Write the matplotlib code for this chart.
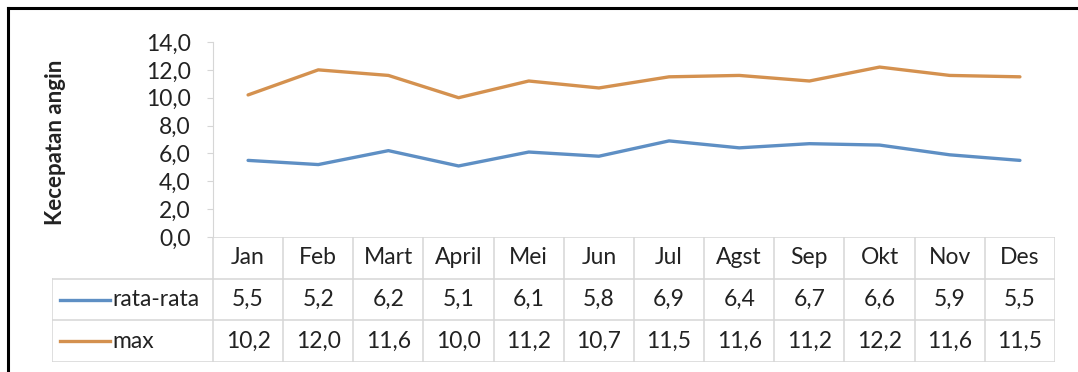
import matplotlib
matplotlib.use("Agg")
import matplotlib.pyplot as plt
from matplotlib.lines import Line2D

plt.rcParams['font.family'] = ['Lato', 'DejaVu Sans']

# monthly wind speed
months = ["Jan", "Feb", "Mart", "April", "Mei", "Jun", "Jul", "Agst", "Sep", "Okt", "Nov", "Des"]
rata_rata = [5.5, 5.2, 6.2, 5.1, 6.1, 5.8, 6.9, 6.4, 6.7, 6.6, 5.9, 5.5]
maks = [10.2, 12.0, 11.6, 10.0, 11.2, 10.7, 11.5, 11.6, 11.2, 12.2, 11.6, 11.5]
series_names = ["rata-rata", "max"]
yticks = [0, 2, 4, 6, 8, 10, 12, 14]

BLUE = "#5e8fc4"
ORANGE = "#d4914f"
GRID = "#d6d6d6"
TXT = "#222222"
FS = 16.5

W, H = 1078, 372
fig = plt.figure(figsize=(W / 100, H / 100), dpi=100)


def box(l, t, r, b):
    # pixel box -> figure fraction rect
    return [l / W, (H - b) / H, (r - l) / W, (b - t) / H]


def fmt(v):
    return f"{v:.1f}".replace(".", ",")


# outer frame (top and left edges only)
fig.add_artist(Line2D([8 / W, 1], [1 - 8 / H, 1 - 8 / H], color="black", lw=2.2))
fig.add_artist(Line2D([8 / W, 8 / W], [1 - 8 / H, 0], color="black", lw=2.2))

n = len(months)
ax = fig.add_axes(box(213, 42, 1055, 237))
xs = [i + 0.5 for i in range(n)]
ax.plot(xs, rata_rata, color=BLUE, lw=2.4, solid_capstyle="round")
ax.plot(xs, maks, color=ORANGE, lw=2.4, solid_capstyle="round")
ax.set_xlim(0, n)
ax.set_ylim(0, 14)
ax.set_yticks(yticks)
ax.set_yticklabels([fmt(v) for v in yticks], fontsize=FS, color=TXT)
ax.tick_params(axis="y", length=4, color=GRID, pad=12)
ax.set_xticks([])
for s in ["top", "right", "bottom"]:
    ax.spines[s].set_visible(False)
ax.spines["left"].set_color(GRID)
ax.patch.set_alpha(0)
fig.text(55 / W, 1 - 142 / H, "Kecepatan angin", rotation=90, ha="center", va="center",
         fontsize=16, fontweight="bold", color=TXT)

# data table under the plot
cw = (1055 - 213) / n
left = -(213 - 52) / cw
tb = fig.add_axes(box(52, 237, 1055, 362))
tb.set_xlim(left, n)
tb.set_ylim(3, 0)
tb.axis("off")
kw = dict(color=GRID, lw=1.1)
tb.plot([0, n], [0, 0], **kw)
for y in (1, 2, 3):
    tb.plot([left, n], [y, y], **kw)
for x in range(n + 1):
    tb.plot([x, x], [0, 3], **kw)
tb.plot([left, left], [1, 3], **kw)

for i, m in enumerate(months):
    tb.text(i + 0.5, 0.5, m, ha="center", va="center", fontsize=FS, color=TXT)
for r, (name, vals, col) in enumerate(zip(series_names, [rata_rata, maks], [BLUE, ORANGE])):
    y = r + 1.5
    tb.plot([left + 0.11, left + 0.83], [y, y], color=col, lw=2.4)
    tb.text(left + 0.86, y, name, ha="left", va="center", fontsize=FS, color=TXT)
    for i, v in enumerate(vals):
        tb.text(i + 0.5, y, fmt(v), ha="center", va="center", fontsize=FS, color=TXT)

fig.savefig("out.png", dpi=100)
